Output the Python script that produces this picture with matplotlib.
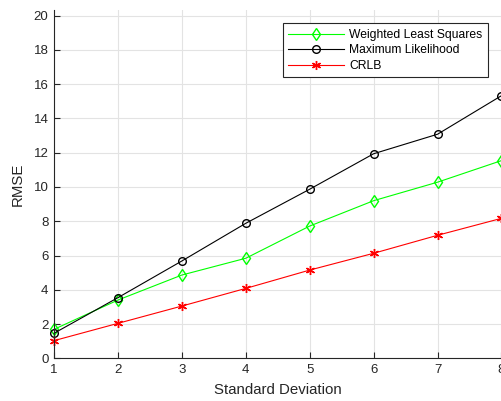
import matplotlib
matplotlib.use("Agg")
import matplotlib.pyplot as plt

# values
std_dev = [1, 2, 3, 4, 5, 6, 7, 8]
wls = [1.69, 3.40, 4.86, 5.84, 7.72, 9.20, 10.28, 11.54]
ml = [1.46, 3.54, 5.68, 7.88, 9.87, 11.94, 13.08, 15.33]
crlb = [1.03, 2.04, 3.05, 4.08, 5.15, 6.13, 7.18, 8.17]
y_ticks = [0, 2, 4, 6, 8, 10, 12, 14, 16, 18, 20]

plt.rcParams['font.family'] = ['Liberation Sans', 'DejaVu Sans']

fig = plt.figure(figsize=(5.02, 4.01), dpi=100)
ax = fig.add_axes([54 / 502, 1 - 358.3 / 401, (501.5 - 54) / 502, (358.3 - 10) / 401])

ax.plot(std_dev, wls, color='#00ff00', marker='d', markersize=6, markerfacecolor='none',
        linewidth=0.8, label='Weighted Least Squares', clip_on=False)
ax.plot(std_dev, ml, color='black', marker='o', markersize=5.5, markerfacecolor='none',
        linewidth=0.8, label='Maximum Likelihood', clip_on=False)
ax.plot(std_dev, crlb, color='#ff0000', marker=(6, 2, 0), markersize=6.5,
        linewidth=0.8, label='CRLB', clip_on=False)

ax.set_xlim(1, 8)
ax.set_ylim(0, 20.33)
ax.set_xticks(std_dev)
ax.set_yticks(y_ticks)
ax.grid(True, color='#e3e3e3', linewidth=0.8)
ax.set_axisbelow(True)

for s in ['top', 'right']:
    ax.spines[s].set_visible(False)
for s in ['left', 'bottom']:
    ax.spines[s].set_color('#262626')
    ax.spines[s].set_linewidth(0.8)
ax.tick_params(direction='in', length=4, width=0.8, colors='#262626', labelsize=9.5, pad=4)

ax.set_xlabel('Standard Deviation', fontsize=10.8, color='#262626', labelpad=5)
ax.set_ylabel('RMSE', fontsize=10.8, color='#262626', labelpad=6)

leg = ax.legend(loc='upper right', bbox_to_anchor=(488 / 502, 1 - 23.3 / 401),
                bbox_transform=fig.transFigure, borderaxespad=0, fancybox=False,
                fontsize=8.7, handlelength=4.6, labelspacing=0.3, borderpad=0.45,
                handletextpad=0.45)
leg.get_frame().set_edgecolor('#262626')
leg.get_frame().set_linewidth(0.8)
leg.get_frame().set_alpha(1)

fig.savefig('out.png', dpi=100)
